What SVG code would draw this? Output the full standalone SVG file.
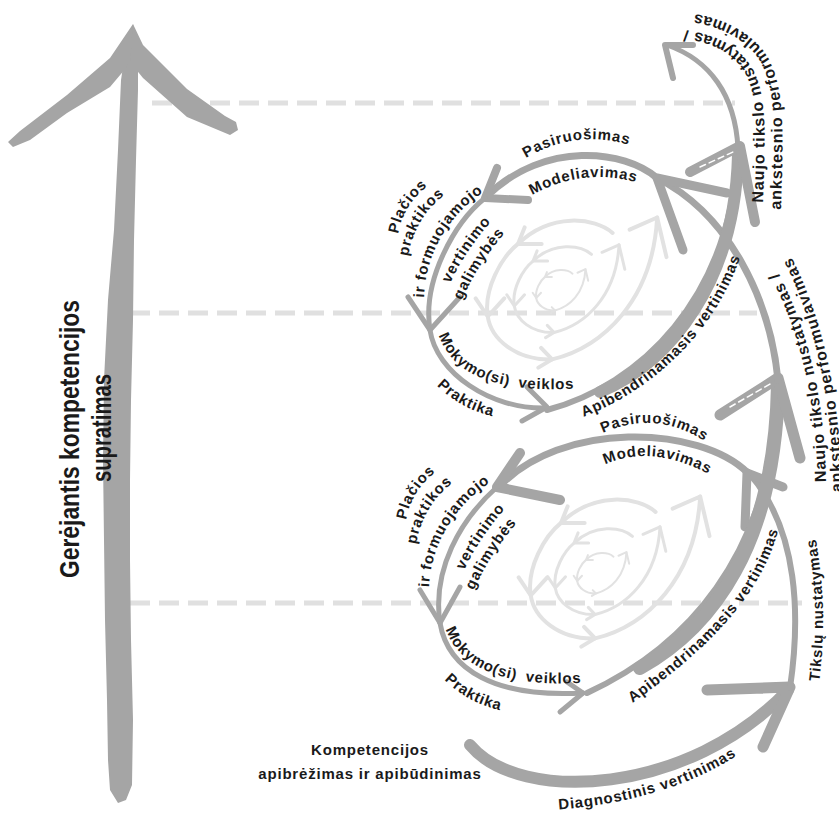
<svg xmlns="http://www.w3.org/2000/svg" width="839" height="814" viewBox="0 0 839 814">
<style>
.st{fill:none;stroke:#a5a5a5;stroke-linecap:round;stroke-linejoin:round}
.fd{fill:none;stroke:#e2e2e2;stroke-linecap:round;stroke-linejoin:round}
.dash{fill:none;stroke:#e0e0e0;stroke-width:5;stroke-dasharray:20 9}
.t{font-family:"Liberation Sans",Arial,sans-serif;font-weight:bold;font-size:15px;letter-spacing:0.8px;fill:#1a1a1a}
.nt{font-size:16px;letter-spacing:1px}
.big{font-family:"Liberation Sans Narrow","Liberation Sans",Arial,sans-serif;font-weight:bold;font-size:27px;fill:#1a1a1a}
.hl{fill:none;stroke:#fff;stroke-width:1.5;stroke-dasharray:6 4;stroke-linecap:round}
</style>
<defs>
<g id="fc">
<path vector-effect="non-scaling-stroke" d="M72,-102 C40,-130 -40,-140 -100,-82 C-130,-58 -163,0 -155,50 C-149,90 -105,130 -38,128 C55,105 145,20 153,-130"/>
<path vector-effect="non-scaling-stroke" d="M-88,-112 L-100,-82 L-57,-82 M-177,17 L-155,50 L-125,17 M-58,107 L-38,128 L-63,143 M103,-108 L153,-130 L170,-58"/>
</g>
<path id="u1" d="M518,163 Q575,125 638,148"/>
<path id="u2" d="M527,198 Q582,165 642,184"/>
<path id="u3" d="M397,244 Q399,204 436,180"/>
<path id="u4" d="M407,265 Q412,215 452,190"/>
<path id="u5" d="M424,305 C423,260 445,215 490,188"/>
<path id="u6" d="M445,295 Q462,252 500,212"/>
<path id="u7" d="M458,310 Q475,265 512,225"/>
<path id="u8" d="M436,325 C446,372 490,395 585,388"/>
<path id="u9" d="M432,380 Q458,410 500,418"/>
<path id="u10" d="M572,421 C650,395 720,330 744,245"/>
<path id="l1" d="M595,437 Q655,405 712,446"/>
<path id="l2" d="M598,468 Q650,440 716,478"/>
<path id="l3" d="M405,530 Q407,490 444,466"/>
<path id="l4" d="M415,553 Q420,503 460,478"/>
<path id="l5" d="M429,595 C428,550 452,505 497,478"/>
<path id="l6" d="M459,582 Q476,539 514,499"/>
<path id="l7" d="M470,600 Q487,555 524,515"/>
<path id="l8" d="M443,619 C452,665 500,690 592,682"/>
<path id="l9" d="M439,674 Q465,704 508,712"/>
<path id="l10" d="M620,712 C700,655 765,600 782,515"/>
<path id="n1" d="M763,203 C765,140 768,95 752,68 C738,45 712,30 662,28"/>
<path id="n2" d="M781,210 C783,140 786,90 768,58 C752,30 715,12 660,10"/>
<path id="m1" d="M826,482 C825,400 808,320 768,255"/>
<path id="m2" d="M842,492 C841,410 826,318 786,247"/>
<path id="tk" d="M818,690 Q830,610 814,530"/>
<path id="dg" d="M553,810 C600,807 680,795 742,752"/>
</defs>

<g id="guides">
<line class="dash" x1="152" y1="103" x2="735" y2="103"/>
<line class="dash" x1="130" y1="313" x2="757" y2="313"/>
<line class="dash" x1="130" y1="603" x2="802" y2="603"/>
</g>

<g id="faded-spirals" class="fd">
<use href="#fc" transform="translate(573,289) scale(0.55)" stroke-width="4"/>
<use href="#fc" transform="translate(567,289) scale(0.34)" stroke-width="3"/>
<use href="#fc" transform="translate(561,290) scale(0.16)" stroke-width="2"/>
<use href="#fc" transform="translate(616,568) scale(0.55)" stroke-width="4"/>
<use href="#fc" transform="translate(608,571) scale(0.34)" stroke-width="3"/>
<use href="#fc" transform="translate(602,573) scale(0.16)" stroke-width="2"/>
</g>

<g id="axis-arrow" fill="#a5a5a5">
<polygon points="127,40 121,80 118,150 114,230 108,300 104,380 103,460 104,540 105,620 107,700 108,760 110,790 118,803 126,800 132,785 133,720 131,640 130,560 130,480 131,400 133,320 134,240 136,160 138,90 138,40"/>
<polygon points="133,24 110,58 67,95 20,131 8,142 13,147 30,140 67,113 110,87 126,68 136,40"/>
<polygon points="133,24 143,45 187,89 225,116 236,122 238,130 230,135 187,117 143,78 130,62"/>
</g>

<g id="connectors" class="st">
<path d="M470,745 C520,805 690,795 788,690" stroke-width="12"/>
<path d="M707,690 L790,687 L763,747" stroke-width="11"/>
<path d="M790,688 C800,620 800,530 748,472" stroke-width="6"/>
<path d="M745,527 L747,473 L783,487" stroke-width="9"/>
<path d="M748,473 C700,425 560,420 498,488" stroke-width="7"/>
<path d="M520,453 L497,487 L560,500" stroke-width="10"/>
<path d="M497,487 C460,520 432,570 440,623" stroke-width="5"/>
<path d="M420,590 L440,623 L460,587" stroke-width="5"/>
<path d="M440,623 C448,670 495,698 583,693" stroke-width="5"/>
<path d="M567,682 L583,693 L560,712" stroke-width="5"/>
<path d="M587,693 C680,650 775,560 778,380" stroke-width="6"/>
<path d="M640,668 C712,628 775,545 778,385" stroke-width="14"/>
<path d="M720,415 L778,378 L800,458" stroke-width="11"/>
<path d="M778,380 C770,300 730,215 657,178" stroke-width="7"/>
<path d="M683,250 L657,178 L727,193" stroke-width="9"/>
<path d="M657,178 C625,150 545,140 487,196" stroke-width="7"/>
<path d="M497,168 L485,198 L528,200" stroke-width="8"/>
<path d="M485,198 C455,222 422,280 430,330" stroke-width="5"/>
<path d="M408,297 L430,330 L460,297" stroke-width="5"/>
<path d="M430,330 C436,372 490,410 547,408" stroke-width="5"/>
<path d="M527,387 L547,407 L522,421" stroke-width="5"/>
<path d="M547,410 C640,385 730,300 738,150" stroke-width="6"/>
<path d="M600,392 C672,362 735,280 738,155" stroke-width="12"/>
<path d="M690,172 L740,146 L755,222" stroke-width="10"/>
<path d="M738,148 C735,95 710,60 667,45" stroke-width="5"/>
<path d="M693,45 L665,45 L673,78" stroke-width="6"/>
</g>
<g id="highlights">
<path class="hl" d="M700,167 L733,152"/>
<path class="hl" d="M730,407 L770,384"/>
</g>

<g id="labels">
<text class="big" transform="translate(79,439) rotate(-90)" text-anchor="middle" textLength="278" lengthAdjust="spacingAndGlyphs">Gerėjantis kompetencijos</text>
<text class="big" transform="translate(111,428) rotate(-90)" text-anchor="middle" textLength="108" lengthAdjust="spacingAndGlyphs">supratimas</text>

<text class="t"><textPath href="#u1" startOffset="50%" text-anchor="middle">Pasiruošimas</textPath></text>
<text class="t"><textPath href="#u2" startOffset="50%" text-anchor="middle">Modeliavimas</textPath></text>
<text class="t"><textPath href="#u3" startOffset="50%" text-anchor="middle">Plačios</textPath></text>
<text class="t"><textPath href="#u4" startOffset="50%" text-anchor="middle">praktikos</textPath></text>
<text class="t"><textPath href="#u5" startOffset="50%" text-anchor="middle">ir formuojamojo</textPath></text>
<text class="t"><textPath href="#u6" startOffset="50%" text-anchor="middle">vertinimo</textPath></text>
<text class="t"><textPath href="#u7" startOffset="50%" text-anchor="middle">galimybės</textPath></text>
<text class="t" word-spacing="4"><textPath href="#u8" startOffset="50%" text-anchor="middle">Mokymo(si) veiklos</textPath></text>
<text class="t"><textPath href="#u9" startOffset="50%" text-anchor="middle">Praktika</textPath></text>
<text class="t"><textPath href="#u10" startOffset="50%" text-anchor="middle">Apibendrinamasis vertinimas</textPath></text>

<text class="t"><textPath href="#l1" startOffset="50%" text-anchor="middle">Pasiruošimas</textPath></text>
<text class="t"><textPath href="#l2" startOffset="50%" text-anchor="middle">Modeliavimas</textPath></text>
<text class="t"><textPath href="#l3" startOffset="50%" text-anchor="middle">Plačios</textPath></text>
<text class="t"><textPath href="#l4" startOffset="50%" text-anchor="middle">praktikos</textPath></text>
<text class="t"><textPath href="#l5" startOffset="50%" text-anchor="middle">ir formuojamojo</textPath></text>
<text class="t"><textPath href="#l6" startOffset="50%" text-anchor="middle">vertinimo</textPath></text>
<text class="t"><textPath href="#l7" startOffset="50%" text-anchor="middle">galimybės</textPath></text>
<text class="t" word-spacing="4"><textPath href="#l8" startOffset="50%" text-anchor="middle">Mokymo(si) veiklos</textPath></text>
<text class="t"><textPath href="#l9" startOffset="50%" text-anchor="middle">Praktika</textPath></text>
<text class="t"><textPath href="#l10" startOffset="50%" text-anchor="middle">Apibendrinamasis vertinimas</textPath></text>

<text class="t nt"><textPath href="#n1">Naujo tikslo nustatymas /</textPath></text>
<text class="t nt"><textPath href="#n2">ankstesnio performulavimas</textPath></text>
<text class="t nt"><textPath href="#m1">Naujo tikslo nustatymas /</textPath></text>
<text class="t nt"><textPath href="#m2">ankstesnio performulavimas</textPath></text>
<text class="t"><textPath href="#tk" startOffset="50%" text-anchor="middle">Tikslų nustatymas</textPath></text>
<text class="t"><textPath href="#dg" startOffset="50%" text-anchor="middle">Diagnostinis vertinimas</textPath></text>

<text class="t" x="370" y="755" text-anchor="middle" letter-spacing="1">Kompetencijos</text>
<text class="t" x="370" y="779" text-anchor="middle" letter-spacing="1">apibrėžimas ir apibūdinimas</text>
</g>
</svg>
